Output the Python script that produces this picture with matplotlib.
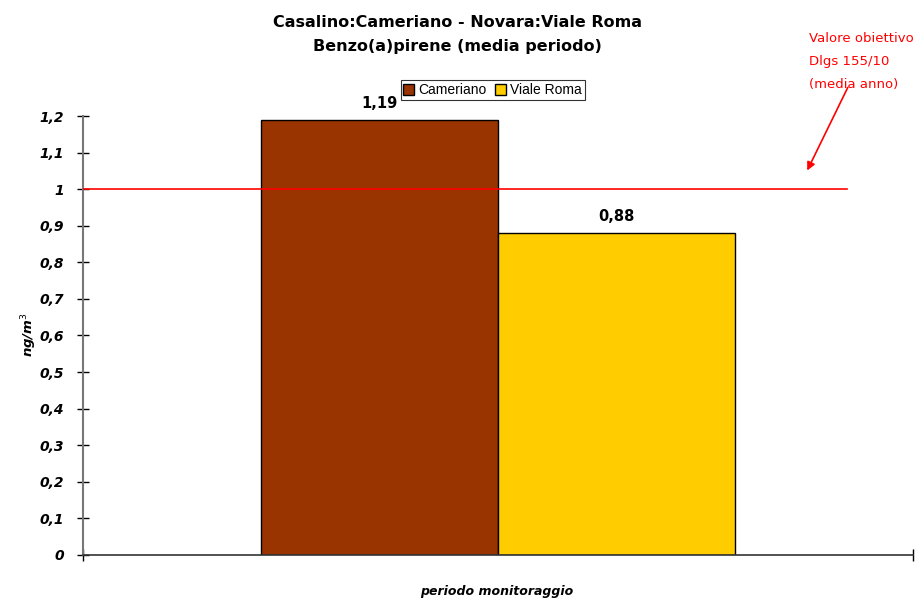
import numpy as np
import matplotlib.pyplot as plt

# Dati: media periodo Benzo(a)pirene
stazioni = ["Cameriano", "Viale Roma"]
valori = [1.19, 0.88]
colori = ["#993300", "#FFCC00"]
etichette = ["1,19", "0,88"]
valore_obiettivo = 1.0
yticks = np.round(np.arange(0, 1.21, 0.1), 1)

fig = plt.figure(figsize=(9.15, 5.99), dpi=100)
ax = fig.add_axes([0.0907, 0.0735, 0.907, 0.7328])

larghezza = 0.2855
centro = 0.5
pos = [centro - larghezza / 2, centro + larghezza / 2]
for p, v, c, s in zip(pos, valori, colori, stazioni):
    ax.bar(p, v, width=larghezza, color=c, edgecolor="black", linewidth=1, label=s)

for p, v, t in zip(pos, valori, etichette):
    ax.text(p, v + 0.025, t, ha="center", va="bottom", fontsize=10.5,
            fontweight="bold", family="DejaVu Sans")

# linea del valore obiettivo
ax.axhline(valore_obiettivo, xmin=0, xmax=0.92, color="red", linewidth=1.2, zorder=3)

ax.set_xlim(0, 1)
ax.set_ylim(0, 1.2)
ax.set_yticks(yticks)
ax.set_yticklabels([("%g" % t).replace(".", ",") for t in yticks],
                   fontsize=10, fontweight="bold", style="italic")
ax.set_xticks([0, 1])
ax.set_xticklabels(["", ""])
ax.tick_params(axis="both", direction="inout", length=9, width=1, pad=9)

ax.spines["top"].set_visible(False)
ax.spines["right"].set_visible(False)
ax.spines["left"].set_color("#777777")
ax.spines["left"].set_linewidth(1.5)
ax.spines["bottom"].set_color("#333333")
ax.spines["bottom"].set_linewidth(1.2)

fig.text(29 / 915, 1 - 335 / 599, "ng/m$^3$", rotation=90, ha="center", va="center",
         fontsize=9.5, fontweight="bold", style="italic")
fig.text(497 / 915, 1 - 591 / 599, "periodo monitoraggio", ha="center", va="center",
         fontsize=9, fontweight="bold", style="italic")

fig.text(0.5, 0.963, "Casalino:Cameriano - Novara:Viale Roma", ha="center", va="center",
         fontsize=11.5, fontweight="bold")
fig.text(0.5, 0.922, "Benzo(a)pirene (media periodo)", ha="center", va="center",
         fontsize=11.5, fontweight="bold")

leg = ax.legend(loc="center", bbox_to_anchor=(0.5385, 0.8495), bbox_transform=fig.transFigure,
                ncol=2, frameon=True, fancybox=False, edgecolor="black",
                handlelength=0.8, handleheight=0.8, handletextpad=0.3, columnspacing=0.6,
                borderpad=0.2, prop={"family": "Liberation Sans", "size": 10})
leg.get_frame().set_linewidth(0.8)

# nota valore obiettivo
fig.text(809 / 915, 0.947, "Valore obiettivo\nDlgs 155/10\n(media anno)", ha="left", va="top",
         color="red", fontsize=9.5, linespacing=2.0)
ax.annotate("", xy=(806, 599 - 173), xycoords="figure pixels",
            xytext=(849, 599 - 85), textcoords="figure pixels",
            arrowprops=dict(arrowstyle="-|>", color="red", lw=1.2, mutation_scale=12))

fig.savefig("out.png", dpi=100)
